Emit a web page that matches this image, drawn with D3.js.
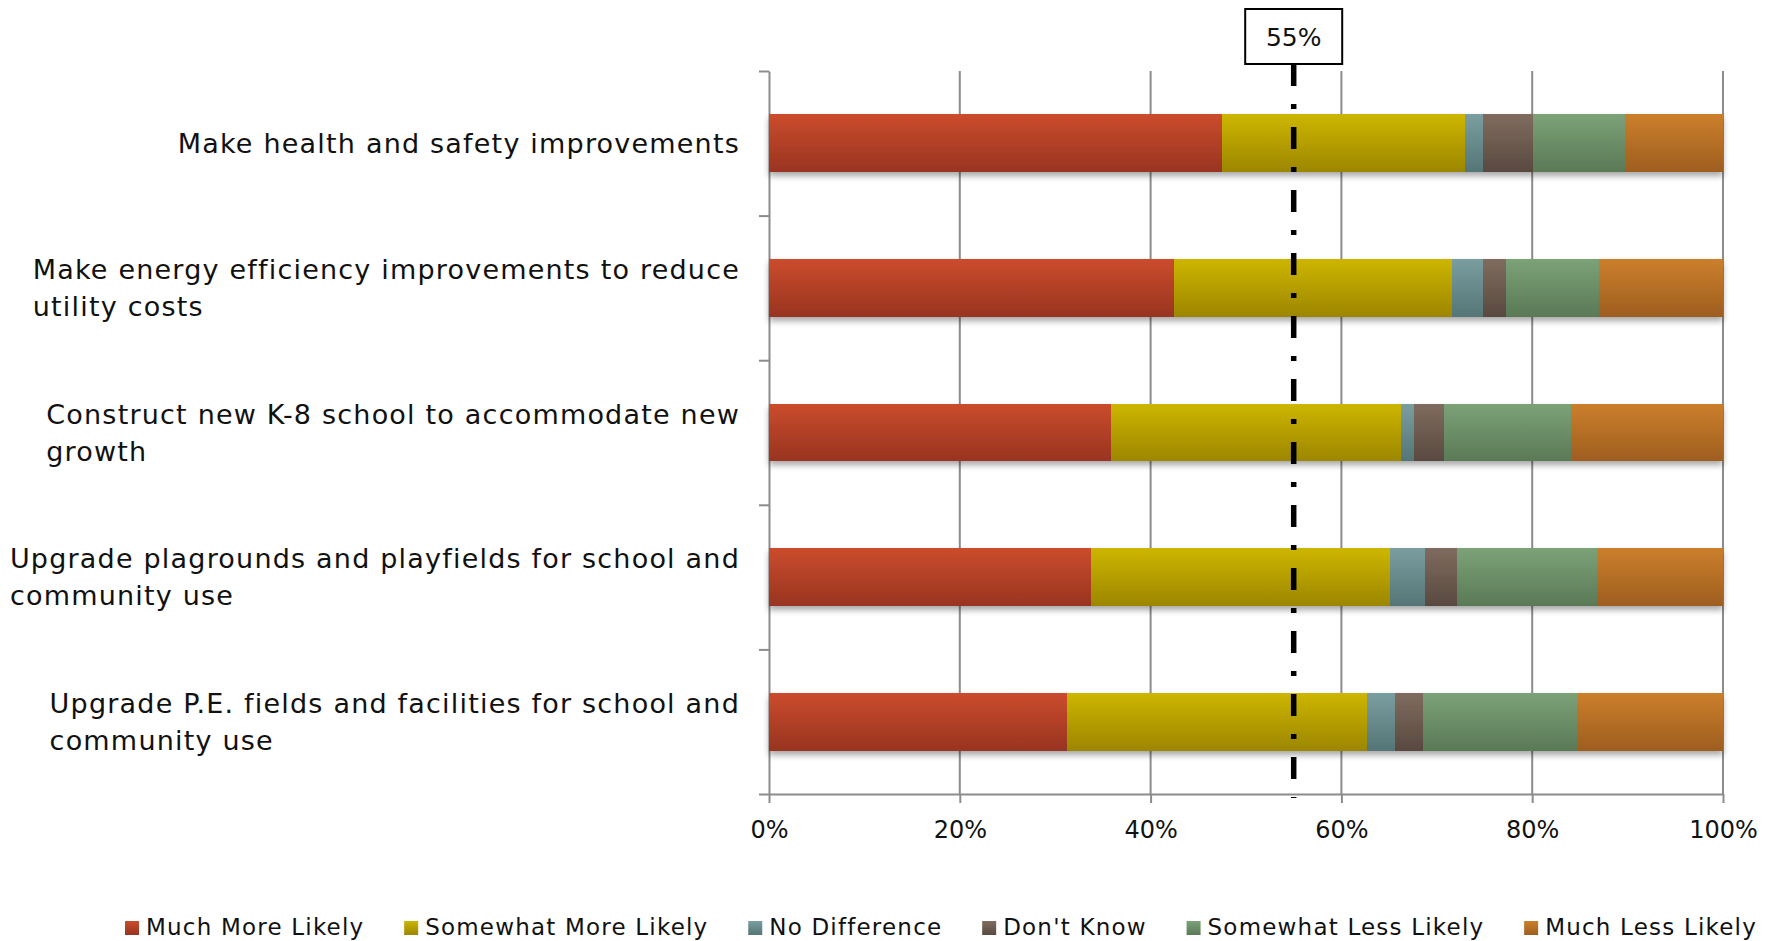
<!DOCTYPE html>
<html>
<head>
<meta charset="utf-8">
<script src="https://cdn.jsdelivr.net/npm/d3@7/dist/d3.min.js"></script>
<style>
  html, body { margin: 0; padding: 0; background: #fff; }
  svg { display: block; }
  text { font-family: "DejaVu Sans", "Noto Sans", sans-serif; fill: #111; }
</style>
</head>
<body>
<svg id="chart" width="1771" height="941"></svg>
<script>
// Survey categories (top to bottom), each split into two display lines
const categories = [
  "Make health and safety improvements",
  "Make energy efficiency improvements to reduce utility costs",
  "Construct new K-8 school to accommodate new growth",
  "Upgrade plagrounds and playfields for school and community use",
  "Upgrade P.E. fields and facilities for school and community use"
];
const categoryLines = [
  ["Make health and safety improvements"],
  ["Make energy efficiency improvements to reduce", "utility costs"],
  ["Construct new K-8 school to accommodate new", "growth"],
  ["Upgrade plagrounds and playfields for school and", "community use"],
  ["Upgrade P.E. fields and facilities for school and", "community use"]
];

// Response series (percent of respondents)
const seriesNames = ["Much More Likely", "Somewhat More Likely", "No Difference", "Don't Know", "Somewhat Less Likely", "Much Less Likely"];
const muchMoreLikely     = [47.5, 42.5, 35.8, 33.8, 31.2];
const somewhatMoreLikely = [25.5, 29.1, 30.4, 31.3, 31.5];
const noDifference       = [1.8, 3.2, 1.4, 3.7, 2.9];
const dontKnow           = [5.3, 2.5, 3.2, 3.3, 3.0];
const somewhatLessLikely = [9.6, 9.7, 13.3, 14.7, 16.1];
const muchLessLikely     = [10.3, 13.0, 15.9, 13.2, 15.3];

// Axis ticks and reference line
const xTicks = [0, 20, 40, 60, 80, 100];
const threshold = 55;
const thresholdLabel = "55%";

// Series colours: [top, bottom] of each bar's vertical shading
const seriesColors = [
  ["#cb4c2d", "#983420"],
  ["#cdb600", "#9c8600"],
  ["#7a9ea0", "#557576"],
  ["#7f6c5f", "#594940"],
  ["#7ca278", "#5a7956"],
  ["#cb7f2c", "#9e5e1f"]
];

const seriesValues = [muchMoreLikely, somewhatMoreLikely, noDifference, dontKnow, somewhatLessLikely, muchLessLikely];
const rows = categories.map((c, i) => {
  const r = { category: c };
  seriesNames.forEach((s, k) => { r[s] = seriesValues[k][i]; });
  return r;
});
const stacked = d3.stack().keys(seriesNames)(rows);

const svg = d3.select("#chart");
const margin = { left: 769, right: 1723, top: 71, bottom: 794 };

const x = d3.scaleLinear().domain([0, 100]).range([margin.left, margin.right]);
const y = d3.scaleBand().domain(categories).range([margin.top, margin.bottom])
  .paddingInner(0.6).paddingOuter(0.3);

// Gradients and bar shadow
const defs = svg.append("defs");
seriesColors.forEach((c, k) => {
  const g = defs.append("linearGradient").attr("id", "grad" + k)
    .attr("x1", 0).attr("y1", 0).attr("x2", 0).attr("y2", 1);
  g.append("stop").attr("offset", "0%").attr("stop-color", c[0]);
  g.append("stop").attr("offset", "100%").attr("stop-color", c[1]);
});
const shadow = defs.append("filter").attr("id", "barShadow")
  .attr("x", "-5%").attr("y", "-20%").attr("width", "110%").attr("height", "160%");
shadow.append("feDropShadow").attr("dx", 0).attr("dy", 4).attr("stdDeviation", 3)
  .attr("flood-color", "#000").attr("flood-opacity", 0.35);

// Vertical gridlines
const gridColor = "#8c8c8c";
svg.append("g").selectAll("line")
  .data(xTicks.filter(t => t > 0))
  .join("line")
  .attr("x1", d => x(d)).attr("x2", d => x(d))
  .attr("y1", margin.top).attr("y2", margin.bottom)
  .attr("stroke", gridColor).attr("stroke-width", 2);

// Bottom axis
const xAxis = svg.append("g")
  .attr("transform", `translate(0,${margin.bottom})`)
  .call(d3.axisBottom(x).tickValues(xTicks).tickFormat(d => d + "%").tickSize(9).tickSizeOuter(0).tickPadding(18));
xAxis.select(".domain").attr("stroke", gridColor).attr("stroke-width", 2);
xAxis.selectAll(".tick line").attr("stroke", gridColor).attr("stroke-width", 2);
xAxis.selectAll(".tick text")
  .style("font-family", '"DejaVu Sans", sans-serif')
  .style("font-size", "24px").attr("fill", "#111");

// Left axis with ticks at category boundaries
const yEdge = d3.scaleLinear().domain([0, categories.length]).range([margin.top, margin.bottom]);
const yAxis = svg.append("g")
  .attr("transform", `translate(${margin.left},0)`)
  .call(d3.axisLeft(yEdge).ticks(categories.length).tickFormat("").tickSize(10).tickSizeOuter(0));
yAxis.select(".domain").attr("stroke", gridColor).attr("stroke-width", 2);
yAxis.selectAll(".tick line").attr("stroke", gridColor).attr("stroke-width", 2);

// Stacked bars
const barRows = svg.append("g").selectAll("g")
  .data(rows)
  .join("g")
  .attr("filter", "url(#barShadow)");
barRows.selectAll("rect")
  .data((d, i) => stacked.map((s, k) => ({ k, seg: s[i], cat: d.category })))
  .join("rect")
  .attr("x", d => x(d.seg[0]))
  .attr("width", d => x(d.seg[1]) - x(d.seg[0]))
  .attr("y", d => y(d.cat))
  .attr("height", y.bandwidth())
  .attr("fill", d => `url(#grad${d.k})`)
  .attr("shape-rendering", "crispEdges");

// Category labels: block right-aligned to the axis, lines left-aligned within it
const labelRight = 740;
const lineGap = 37;
const labels = svg.append("g");
categories.forEach((c, i) => {
  const lines = categoryLines[i];
  const cy = y(c) + y.bandwidth() / 2;
  const g = labels.append("g");
  const texts = g.selectAll("text").data(lines).join("text")
    .attr("y", (d, j) => cy + (j - (lines.length - 1) / 2) * lineGap)
    .attr("dy", "0.36em")
    .style("font-size", "27px")
    .style("letter-spacing", "1.2px")
    .text(d => d);
  let maxW = 0;
  texts.each(function () { maxW = Math.max(maxW, this.getComputedTextLength()); });
  texts.attr("x", labelRight - maxW);
});

// 55% reference line with callout box
const tx = x(threshold);
const boxW = 97, boxTop = 9, boxH = 55;
svg.append("line")
  .attr("x1", tx).attr("x2", tx)
  .attr("y1", boxTop + boxH).attr("y2", margin.bottom + 4)
  .attr("stroke", "#000").attr("stroke-width", 5.5)
  .attr("stroke-dasharray", "22,18,5,18");
svg.append("rect")
  .attr("x", tx - boxW / 2).attr("y", boxTop)
  .attr("width", boxW).attr("height", boxH)
  .attr("fill", "#fff").attr("stroke", "#000").attr("stroke-width", 2);
svg.append("text")
  .attr("x", tx).attr("y", boxTop + boxH / 2).attr("dy", "0.36em")
  .attr("text-anchor", "middle")
  .style("font-size", "25px")
  .text(thresholdLabel);

// Legend along the bottom
const legendY = 927, legendLeft = 125, legendRight = 1757, sq = 14, sqGap = 7;
const legend = svg.append("g");
const items = legend.selectAll("g").data(seriesNames).join("g");
items.append("rect")
  .attr("y", legendY - sq / 2 + 1).attr("width", sq).attr("height", sq)
  .attr("fill", (d, k) => `url(#grad${k})`);
items.append("text")
  .attr("x", sq + sqGap).attr("y", legendY).attr("dy", "0.36em")
  .style("font-size", "23px")
  .style("letter-spacing", "1.2px")
  .text(d => d);
const widths = [];
items.each(function () { widths.push(this.getBBox().width); });
const spacing = (legendRight - legendLeft - d3.sum(widths)) / (seriesNames.length - 1);
let cursor = legendLeft;
items.each(function (d, k) {
  d3.select(this).attr("transform", `translate(${cursor},0)`);
  cursor += widths[k] + spacing;
});
</script>
</body>
</html>
